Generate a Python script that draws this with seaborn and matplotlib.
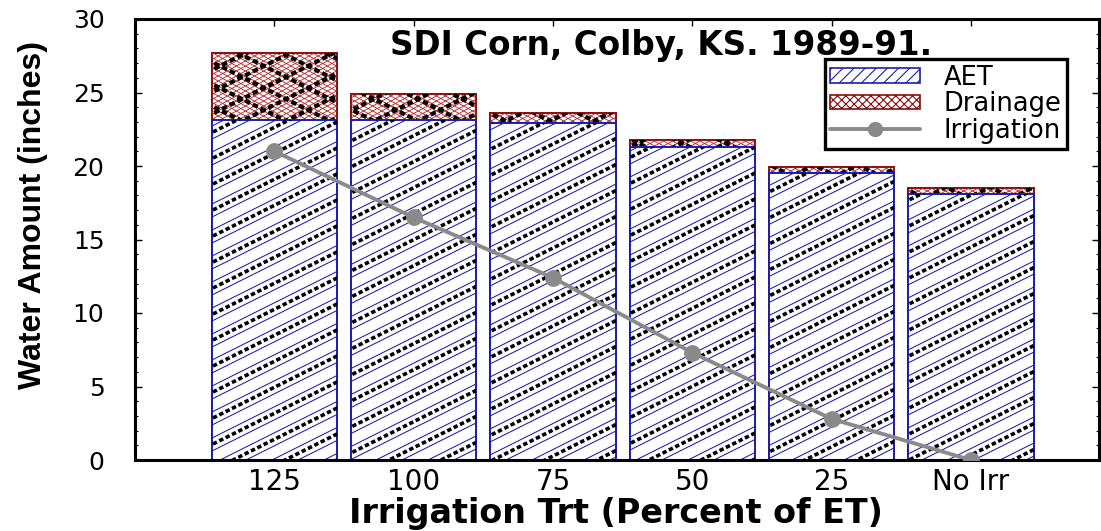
import numpy as np
import pandas as pd
import matplotlib
matplotlib.use("Agg")
import matplotlib.pyplot as plt
from matplotlib.lines import Line2D
from matplotlib.patches import Patch
from matplotlib.transforms import IdentityTransform
from matplotlib.ticker import MultipleLocator
import seaborn as sns

# Water balance for SDI corn, Colby KS, 1989-91 (inches)
treatments = ["125", "100", "75", "50", "25", "No Irr"]
aet = [23.1, 23.1, 22.95, 21.3, 19.5, 18.1]
drainage = [4.6, 1.8, 0.68, 0.5, 0.4, 0.38]
irrigation = [21.0, 16.5, 12.4, 7.3, 2.8, 0.0]

df = pd.DataFrame({
    "trt": treatments,
    "aet": aet,
    "total": np.array(aet) + np.array(drainage),
    "irr": irrigation,
})

sns.set_style("white")
plt.rcParams["font.family"] = ["DejaVu Sans"]
plt.rcParams["text.color"] = "black"
plt.rcParams["xtick.color"] = "black"
plt.rcParams["ytick.color"] = "black"
plt.rcParams["lines.scale_dashes"] = False
plt.rcParams["hatch.linewidth"] = 0.8

BLUE = "#1c1cb0"
DRED = "#8b0a0a"
GRAY = "#8a8a8a"

fig = plt.figure(figsize=(11.01, 5.31), dpi=100)
ax = fig.add_axes([135 / 1101, 71 / 531, 964 / 1101, 441 / 531])

# total column (AET + drainage) first, AET drawn over it from zero
sns.barplot(data=df, x="trt", y="total", color="white", edgecolor=DRED,
            linewidth=1.4, width=0.9, saturation=1, ax=ax, zorder=1)
n_total = len(ax.patches)
sns.barplot(data=df, x="trt", y="aet", color="white", edgecolor=BLUE,
            linewidth=1.4, width=0.9, saturation=1, ax=ax, zorder=2)
total_bars = ax.patches[:n_total]
aet_bars = ax.patches[n_total:]

sns.pointplot(data=df, x="trt", y="irr", color=GRAY, markers="o",
              markersize=10, linewidth=2.8, ax=ax, zorder=5)

ax.set_xlim(-1.0, 5.92)
ax.set_ylim(0, 30)


def texture(patch, slope, step, phase, color, lw, zorder, dashes=None):
    """Fill a bar with parallel lines in pixel space, clipped to the bar."""
    bb = patch.get_window_extent()
    x0, x1, y0, y1 = bb.x0, bb.x1, bb.y0, bb.y1
    cs = [y0 - slope * x0, y0 - slope * x1, y1 - slope * x0, y1 - slope * x1]
    kmin = int(np.floor((min(cs) - phase) / step)) - 1
    kmax = int(np.ceil((max(cs) - phase) / step)) + 1
    for k in range(kmin, kmax + 1):
        c = phase + k * step
        ln = Line2D([x0 - 5, x1 + 5], [slope * (x0 - 5) + c, slope * (x1 + 5) + c],
                    transform=IdentityTransform(), color=color, lw=lw,
                    zorder=zorder, solid_capstyle="butt", dash_capstyle="butt")
        if dashes is not None:
            ln.set_linestyle((0, dashes))
        ax.add_artist(ln)
        ln.set_clip_path(patch)


for p in total_bars:
    texture(p, 0.55, 5.0, 0.0, "#b02020", 0.6, 1.2)
    texture(p, -0.55, 5.0, 0.0, "#b02020", 0.6, 1.2)
    texture(p, 0.5, 22.0, 3.0, "black", 3.0, 1.4, dashes=(4.0, 2.2))
    texture(p, -0.5, 22.0, 3.0, "black", 3.0, 1.4, dashes=(4.0, 2.2))

for p in aet_bars:
    texture(p, 0.5, 13.0, 0.0, BLUE, 0.75, 2.2)
    texture(p, 0.5, 26.0, 6.5, "black", 2.6, 2.4, dashes=(3.2, 1.9))

# frame and ticks
for s in ax.spines.values():
    s.set_linewidth(2.2)
    s.set_color("black")
    s.set_visible(True)
ax.yaxis.set_major_locator(MultipleLocator(5))
ax.yaxis.set_minor_locator(MultipleLocator(1))
ax.tick_params(axis="y", which="major", direction="in", left=True, right=True,
               length=5, width=1.0, labelsize=18, pad=22)
ax.tick_params(axis="y", which="minor", direction="in", left=True, right=True,
               length=2.5, width=0.8)
ax.tick_params(axis="x", which="major", direction="in", bottom=True, top=True,
               length=5, width=1.0, labelsize=20, pad=6)
ax.set_xlabel("")
ax.set_ylabel("")

fig.text(616 / 1101, 1 - 514 / 531, "Irrigation Trt (Percent of ET)",
         ha="center", va="center", fontsize=24, fontweight="bold")
fig.text(33 / 1101, 1 - 215 / 531, "Water Amount (inches)", rotation=90,
         ha="center", va="center", fontsize=23, fontweight="bold",
         family=["Liberation Sans", "DejaVu Sans"])
fig.text(661 / 1101, 1 - 46 / 531, "SDI Corn, Colby, KS. 1989-91.",
         ha="center", va="center", fontsize=23.5, fontweight="bold")

handles = [
    Patch(facecolor="white", edgecolor=BLUE, hatch="///", lw=1.2),
    Patch(facecolor="white", edgecolor=DRED, hatch="xxxx", lw=1.2),
    Line2D([], [], color=GRAY, lw=2.8, marker="o", markersize=10),
]
leg = ax.legend(handles, ["AET", "Drainage", "Irrigation"],
                loc="upper right", bbox_to_anchor=(1067 / 1101, 1 - 59 / 531),
                bbox_transform=fig.transFigure, fontsize=18.5, frameon=True,
                fancybox=False, framealpha=1, edgecolor="black",
                handlelength=3.5, handleheight=0.5, handletextpad=0.9,
                labelspacing=0.02, borderpad=0.22, borderaxespad=0)
leg.get_frame().set_linewidth(2.4)

fig.savefig("out.png", dpi=100)
